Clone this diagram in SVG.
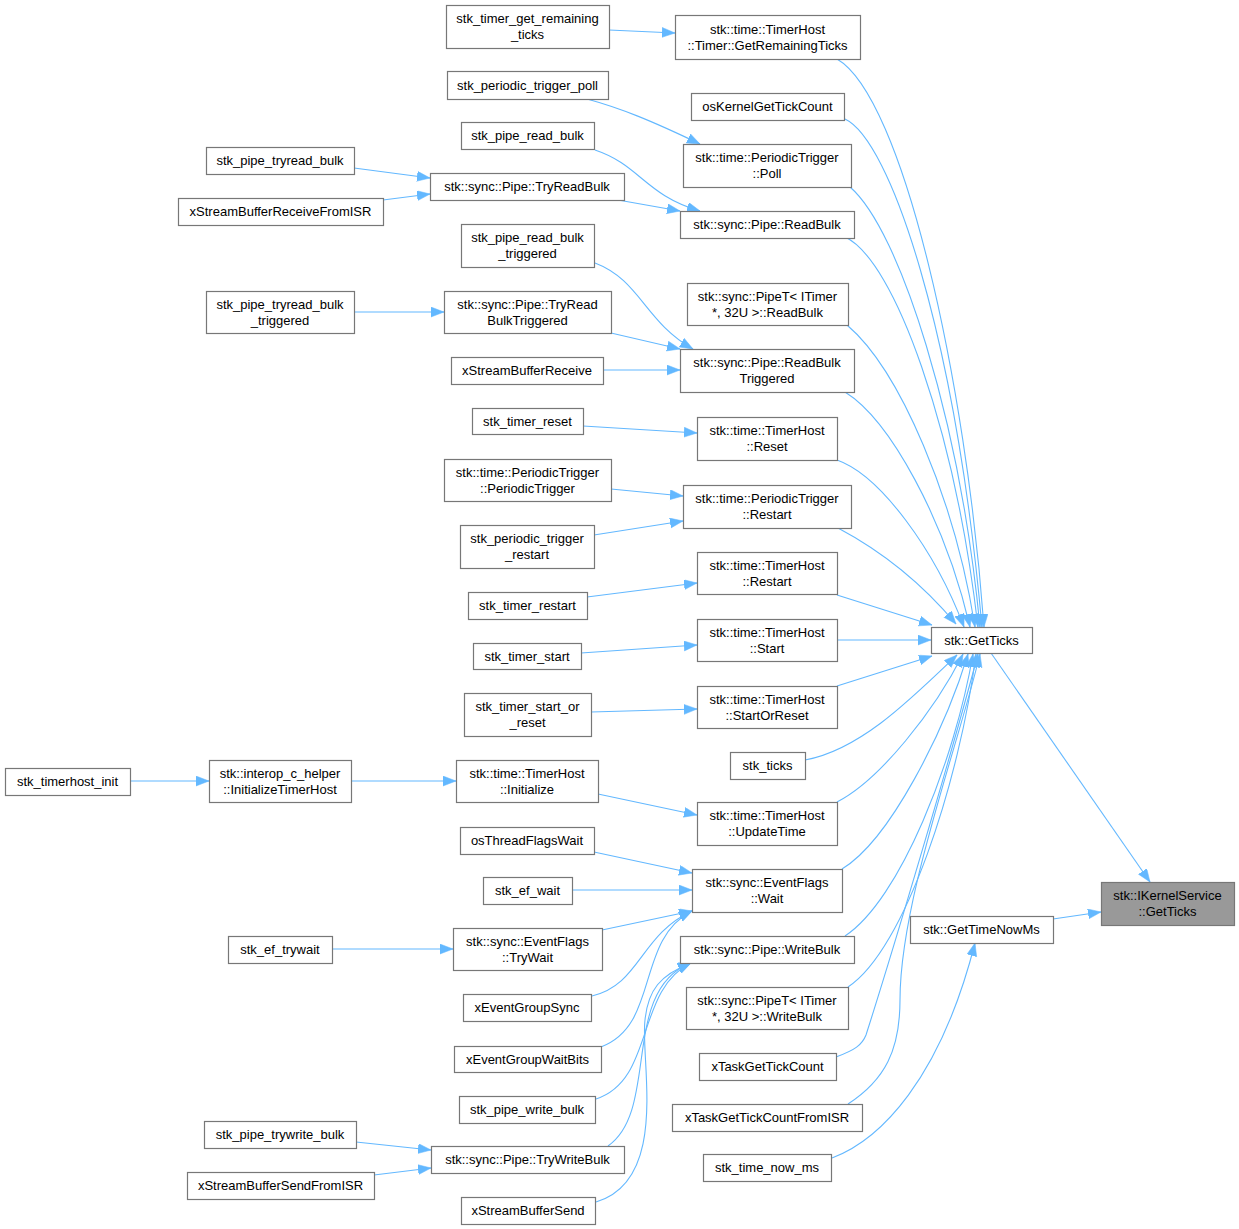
<svg xmlns="http://www.w3.org/2000/svg" width="1239" height="1229" viewBox="0 0 1239 1229">
<style>
.node rect{fill:#ffffff;stroke:#777777;stroke-width:1.2}
.node.hl rect{fill:#999999}
.node text{font-family:"Liberation Sans",Arial,sans-serif;font-size:13px;fill:#000000;text-anchor:middle}
.edges path{fill:none;stroke:#63b8ff;stroke-width:1.1;marker-end:url(#ah)}
</style>
<defs>
<marker id="ah" markerUnits="userSpaceOnUse" markerWidth="15" markerHeight="12" refX="13" refY="5" orient="auto">
<path d="M0,0 L13,5 L0,10 z" fill="#63b8ff" stroke="#63b8ff" stroke-width="0.5"/>
</marker>
</defs>
<rect width="1239" height="1229" fill="#ffffff"/>
<g class="edges">
<path d="M609,30 L675,33"/>
<path d="M587,99 C620,108 650,120 700,144"/>
<path d="M595,150 C640,165 645,195 700,211"/>
<path d="M354,168 L430,178"/>
<path d="M383,200 L430,194"/>
<path d="M618,200 L680,211"/>
<path d="M595,263 C640,280 645,322 693,349"/>
<path d="M354,312 L444,312"/>
<path d="M611,333 L680,349"/>
<path d="M603,370 L680,370"/>
<path d="M583,426 L697,433"/>
<path d="M611,489 L683,496"/>
<path d="M594,535 L683,521"/>
<path d="M587,597 L697,583"/>
<path d="M581,653 L697,645"/>
<path d="M591,712 L697,709"/>
<path d="M130,781 L209,781"/>
<path d="M351,781 L456,781"/>
<path d="M598,794 L697,815"/>
<path d="M594,852 L692,873"/>
<path d="M572,890 L692,890"/>
<path d="M332,949 L453,949"/>
<path d="M602,930 L692,911"/>
<path d="M592,996 C640,985 640,935 692,911"/>
<path d="M601,1047 C660,1025 635,940 692,911"/>
<path d="M596,1099 C655,1080 635,990 691,963"/>
<path d="M356,1142 L431,1150"/>
<path d="M374,1175 L431,1168"/>
<path d="M608,1146 C660,1110 620,990 691,963"/>
<path d="M596,1202 C670,1180 640,1060 645,1020 C648,990 660,975 691,963"/>
<path d="M1053,919 L1101,912"/>
<path d="M832,1158 C880,1140 940,1080 975,943"/>
<path d="M991,653 L1150,882"/>
<path d="M837,59 C903,97 966,380 984,627"/>
<path d="M845,119 C890,140 955,330 982,627"/>
<path d="M850,187 C900,230 960,420 980,627"/>
<path d="M845,237 C895,260 955,430 978,627"/>
<path d="M847,325 C900,370 955,500 975,627"/>
<path d="M845,392 C890,420 945,520 970,627"/>
<path d="M837,460 C880,475 935,550 964,627"/>
<path d="M838,528 C870,545 915,575 956,624"/>
<path d="M837,595 L932,625"/>
<path d="M837,640 L931,640"/>
<path d="M837,686 L932,656"/>
<path d="M805,760 C860,750 910,700 957,655"/>
<path d="M837,802 C880,780 935,710 963,654"/>
<path d="M842,869 C890,840 945,730 968,654"/>
<path d="M845,936 C900,900 955,760 973,654"/>
<path d="M848,987 C905,950 960,780 976,654"/>
<path d="M836,1057 C855,1050 862,1045 866,1035 C890,960 950,760 978,654"/>
<path d="M848,1104 C885,1080 900,1050 900,1000 C900,900 960,740 980,654"/>
</g>
<g id="n1" class="node"><rect x="446.5" y="5.5" width="163" height="43"/><text x="527.5" y="23">stk_timer_get_remaining</text><text x="527.5" y="39">_ticks</text></g>
<g id="n2" class="node"><rect x="675.5" y="15.5" width="185" height="44"/><text x="767.5" y="33.5">stk::time::TimerHost</text><text x="767.5" y="49.5">::Timer::GetRemainingTicks</text></g>
<g id="n3" class="node"><rect x="447.5" y="71.5" width="161" height="28"/><text x="527.5" y="89.5">stk_periodic_trigger_poll</text></g>
<g id="n4" class="node"><rect x="691.5" y="93.5" width="153" height="27"/><text x="767.5" y="111">osKernelGetTickCount</text></g>
<g id="n5" class="node"><rect x="461.5" y="122.5" width="133" height="27"/><text x="527.5" y="140">stk_pipe_read_bulk</text></g>
<g id="n6" class="node"><rect x="683.5" y="144.5" width="168" height="43"/><text x="767" y="162">stk::time::PeriodicTrigger</text><text x="767" y="178">::Poll</text></g>
<g id="n7" class="node"><rect x="206.5" y="147.5" width="148" height="27"/><text x="280" y="165">stk_pipe_tryread_bulk</text></g>
<g id="n8" class="node"><rect x="430.5" y="173.5" width="194" height="27"/><text x="527" y="191">stk::sync::Pipe::TryReadBulk</text></g>
<g id="n9" class="node"><rect x="178.5" y="198.5" width="205" height="27"/><text x="280.5" y="216">xStreamBufferReceiveFromISR</text></g>
<g id="n10" class="node"><rect x="680.5" y="211.5" width="174" height="27"/><text x="767" y="229">stk::sync::Pipe::ReadBulk</text></g>
<g id="n11" class="node"><rect x="461.5" y="224.5" width="133" height="43"/><text x="527.5" y="242">stk_pipe_read_bulk</text><text x="527.5" y="258">_triggered</text></g>
<g id="n12" class="node"><rect x="687.5" y="283.5" width="161" height="42"/><text x="767.5" y="300.5">stk::sync::PipeT&lt; ITimer</text><text x="767.5" y="316.5">*, 32U &gt;::ReadBulk</text></g>
<g id="n13" class="node"><rect x="206.5" y="291.5" width="148" height="42"/><text x="280" y="308.5">stk_pipe_tryread_bulk</text><text x="280" y="324.5">_triggered</text></g>
<g id="n14" class="node"><rect x="444.5" y="291.5" width="167" height="42"/><text x="527.5" y="308.5">stk::sync::Pipe::TryRead</text><text x="527.5" y="324.5">BulkTriggered</text></g>
<g id="n15" class="node"><rect x="451.5" y="357.5" width="152" height="27"/><text x="527" y="375">xStreamBufferReceive</text></g>
<g id="n16" class="node"><rect x="680.5" y="349.5" width="174" height="43"/><text x="767" y="367">stk::sync::Pipe::ReadBulk</text><text x="767" y="383">Triggered</text></g>
<g id="n17" class="node"><rect x="472.5" y="408.5" width="111" height="26"/><text x="527.5" y="425.5">stk_timer_reset</text></g>
<g id="n18" class="node"><rect x="697.5" y="417.5" width="140" height="43"/><text x="767" y="435">stk::time::TimerHost</text><text x="767" y="451">::Reset</text></g>
<g id="n19" class="node"><rect x="444.5" y="459.5" width="167" height="42"/><text x="527.5" y="476.5">stk::time::PeriodicTrigger</text><text x="527.5" y="492.5">::PeriodicTrigger</text></g>
<g id="n20" class="node"><rect x="683.5" y="485.5" width="168" height="43"/><text x="767" y="503">stk::time::PeriodicTrigger</text><text x="767" y="519">::Restart</text></g>
<g id="n21" class="node"><rect x="460.5" y="525.5" width="134" height="43"/><text x="527" y="543">stk_periodic_trigger</text><text x="527" y="559">_restart</text></g>
<g id="n22" class="node"><rect x="697.5" y="552.5" width="140" height="42"/><text x="767" y="569.5">stk::time::TimerHost</text><text x="767" y="585.5">::Restart</text></g>
<g id="n23" class="node"><rect x="468.5" y="592.5" width="119" height="27"/><text x="527.5" y="610">stk_timer_restart</text></g>
<g id="n24" class="node"><rect x="697.5" y="619.5" width="140" height="42"/><text x="767" y="636.5">stk::time::TimerHost</text><text x="767" y="652.5">::Start</text></g>
<g id="n25" class="node"><rect x="931.5" y="627.5" width="101" height="26"/><text x="981.5" y="644.5">stk::GetTicks</text></g>
<g id="n26" class="node"><rect x="473.5" y="643.5" width="108" height="26"/><text x="527" y="660.5">stk_timer_start</text></g>
<g id="n27" class="node"><rect x="697.5" y="686.5" width="140" height="42"/><text x="767" y="703.5">stk::time::TimerHost</text><text x="767" y="719.5">::StartOrReset</text></g>
<g id="n28" class="node"><rect x="464.5" y="693.5" width="127" height="43"/><text x="527.5" y="711">stk_timer_start_or</text><text x="527.5" y="727">_reset</text></g>
<g id="n29" class="node"><rect x="730.5" y="752.5" width="75" height="27"/><text x="767.5" y="770">stk_ticks</text></g>
<g id="n30" class="node"><rect x="5.5" y="768.5" width="125" height="27"/><text x="67.5" y="786">stk_timerhost_init</text></g>
<g id="n31" class="node"><rect x="209.5" y="760.5" width="142" height="42"/><text x="280" y="777.5">stk::interop_c_helper</text><text x="280" y="793.5">::InitializeTimerHost</text></g>
<g id="n32" class="node"><rect x="456.5" y="760.5" width="142" height="42"/><text x="527" y="777.5">stk::time::TimerHost</text><text x="527" y="793.5">::Initialize</text></g>
<g id="n33" class="node"><rect x="697.5" y="802.5" width="140" height="43"/><text x="767" y="820">stk::time::TimerHost</text><text x="767" y="836">::UpdateTime</text></g>
<g id="n34" class="node"><rect x="460.5" y="827.5" width="134" height="27"/><text x="527" y="845">osThreadFlagsWait</text></g>
<g id="n35" class="node"><rect x="483.5" y="877.5" width="89" height="27"/><text x="527.5" y="895">stk_ef_wait</text></g>
<g id="n36" class="node"><rect x="692.5" y="869.5" width="150" height="43"/><text x="767" y="887">stk::sync::EventFlags</text><text x="767" y="903">::Wait</text></g>
<g id="n37" class="node hl"><rect x="1101.5" y="882.5" width="133" height="43"/><text x="1167.5" y="900">stk::IKernelService</text><text x="1167.5" y="916">::GetTicks</text></g>
<g id="n38" class="node"><rect x="910.5" y="916.5" width="143" height="27"/><text x="981.5" y="934">stk::GetTimeNowMs</text></g>
<g id="n39" class="node"><rect x="228.5" y="936.5" width="104" height="27"/><text x="280" y="954">stk_ef_trywait</text></g>
<g id="n40" class="node"><rect x="453.5" y="928.5" width="149" height="42"/><text x="527.5" y="945.5">stk::sync::EventFlags</text><text x="527.5" y="961.5">::TryWait</text></g>
<g id="n41" class="node"><rect x="680.5" y="936.5" width="174" height="27"/><text x="767" y="954">stk::sync::Pipe::WriteBulk</text></g>
<g id="n42" class="node"><rect x="463.5" y="994.5" width="128" height="27"/><text x="527" y="1012">xEventGroupSync</text></g>
<g id="n43" class="node"><rect x="686.5" y="987.5" width="162" height="42"/><text x="767" y="1004.5">stk::sync::PipeT&lt; ITimer</text><text x="767" y="1020.5">*, 32U &gt;::WriteBulk</text></g>
<g id="n44" class="node"><rect x="454.5" y="1046.5" width="147" height="26"/><text x="527.5" y="1063.5">xEventGroupWaitBits</text></g>
<g id="n45" class="node"><rect x="699.5" y="1053.5" width="137" height="27"/><text x="767.5" y="1071">xTaskGetTickCount</text></g>
<g id="n46" class="node"><rect x="459.5" y="1096.5" width="136" height="27"/><text x="527" y="1114">stk_pipe_write_bulk</text></g>
<g id="n47" class="node"><rect x="672.5" y="1104.5" width="190" height="27"/><text x="767" y="1122">xTaskGetTickCountFromISR</text></g>
<g id="n48" class="node"><rect x="204.5" y="1121.5" width="152" height="27"/><text x="280" y="1139">stk_pipe_trywrite_bulk</text></g>
<g id="n49" class="node"><rect x="431.5" y="1146.5" width="193" height="27"/><text x="527.5" y="1164">stk::sync::Pipe::TryWriteBulk</text></g>
<g id="n50" class="node"><rect x="703.5" y="1154.5" width="128" height="27"/><text x="767" y="1172">stk_time_now_ms</text></g>
<g id="n51" class="node"><rect x="187.5" y="1172.5" width="187" height="27"/><text x="280.5" y="1190">xStreamBufferSendFromISR</text></g>
<g id="n52" class="node"><rect x="461.5" y="1197.5" width="134" height="27"/><text x="528" y="1215">xStreamBufferSend</text></g>
</svg>
